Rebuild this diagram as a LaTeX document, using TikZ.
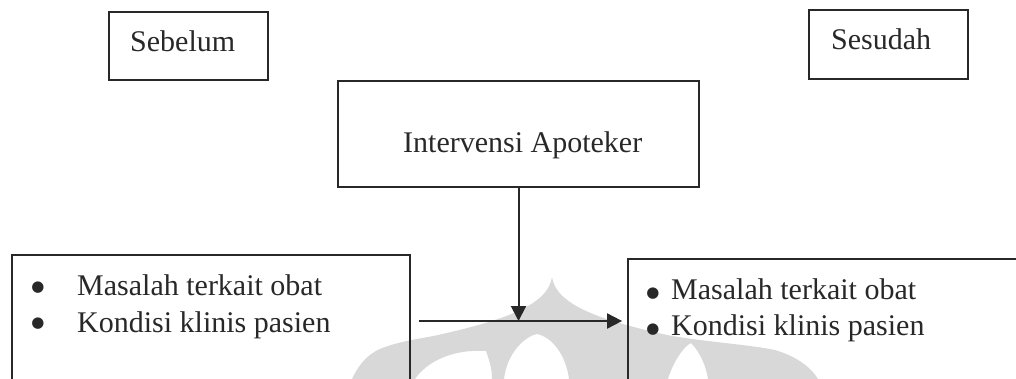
\documentclass[tikz,border=0pt]{standalone}
\usepackage{fontspec}
\setmainfont{Liberation Serif}
\newfontfamily\dejavu{DejaVu Sans}
\usetikzlibrary{arrows.meta}
\definecolor{ink}{RGB}{40,40,40}
\definecolor{wm}{RGB}{216,216,216}
\tikzset{
  box/.style={draw=ink, line width=1.8pt, rectangle, inner sep=0pt},
  lbl/.style={inner sep=0pt, anchor=base west, text=ink, font=\fontsize{30}{36}\selectfont},
  bul/.style={inner sep=0pt, anchor=center, text=ink, font=\dejavu\fontsize{15}{15}\selectfont},
  conn/.style={draw=ink, line width=2pt, -{Triangle[length=15pt,width=15pt]}}
}
\begin{document}
\begin{tikzpicture}[x=1pt,y=-1pt]
\useasboundingbox (0,0) rectangle (1016,379);
\clip (0,0) rectangle (1016,379);
% watermark
\fill[wm, even odd rule]
 (352,379) .. controls (360,362) and (370,352) .. (385,347)
 .. controls (405,340) and (425,338) .. (438,335)
 .. controls (505,320) and (548,305) .. (552,277)
 .. controls (556,305) and (600,320) .. (667,335)
 .. controls (705,342) and (745,344) .. (775,350)
 .. controls (795,356) and (810,366) .. (818,379) -- cycle
 (415,379) .. controls (428,360) and (455,349) .. (486,351)
 .. controls (490,362) and (492,370) .. (492,379) -- cycle
 (504,379) .. controls (507,352) and (526,336) .. (537,334)
 .. controls (552,337) and (566,355) .. (569,379) -- cycle
 (668,379) .. controls (673,362) and (684,346) .. (691,343)
 .. controls (700,352) and (706,366) .. (708,379) -- cycle;
% boxes
\node[box, minimum width=159pt, minimum height=68pt] (seb) at (188.5,46) {};
\node[box, minimum width=159pt, minimum height=69pt] (ses) at (888.5,44.5) {};
\node[box, minimum width=361pt, minimum height=106pt] (int) at (518.5,134) {};
\node[box, minimum width=398pt, minimum height=145pt] (left) at (211,327.5) {};
\node[box, minimum width=412pt, minimum height=141pt] (right) at (834,329.5) {};
% labels
\node[lbl] (tseb) at (130,52) {Sebelum};
\node[lbl] (tses) at (831,50) {Sesudah};
\node[lbl] (tint) at (403,153) {Intervensi Apoteker};
\node[bul] (lb1) at (38,288) {●};
\node[bul] (lb2) at (38,324) {●};
\node[lbl] (lt1) at (77,295) {Masalah terkait obat};
\node[lbl] (lt2) at (77,332) {Kondisi klinis pasien};
\node[bul] (rb1) at (653,294) {●};
\node[bul] (rb2) at (653,330) {●};
\node[lbl] (rt1) at (671,299) {Masalah terkait obat};
\node[lbl] (rt2) at (671,335) {Kondisi klinis pasien};
% connectors
\coordinate (hs) at (419,321);
\draw[conn] (hs) -- ([xshift=-5pt]right.west |- hs);
\draw[conn] (int.south) -- (int.south |- hs);
\end{tikzpicture}
\end{document}
